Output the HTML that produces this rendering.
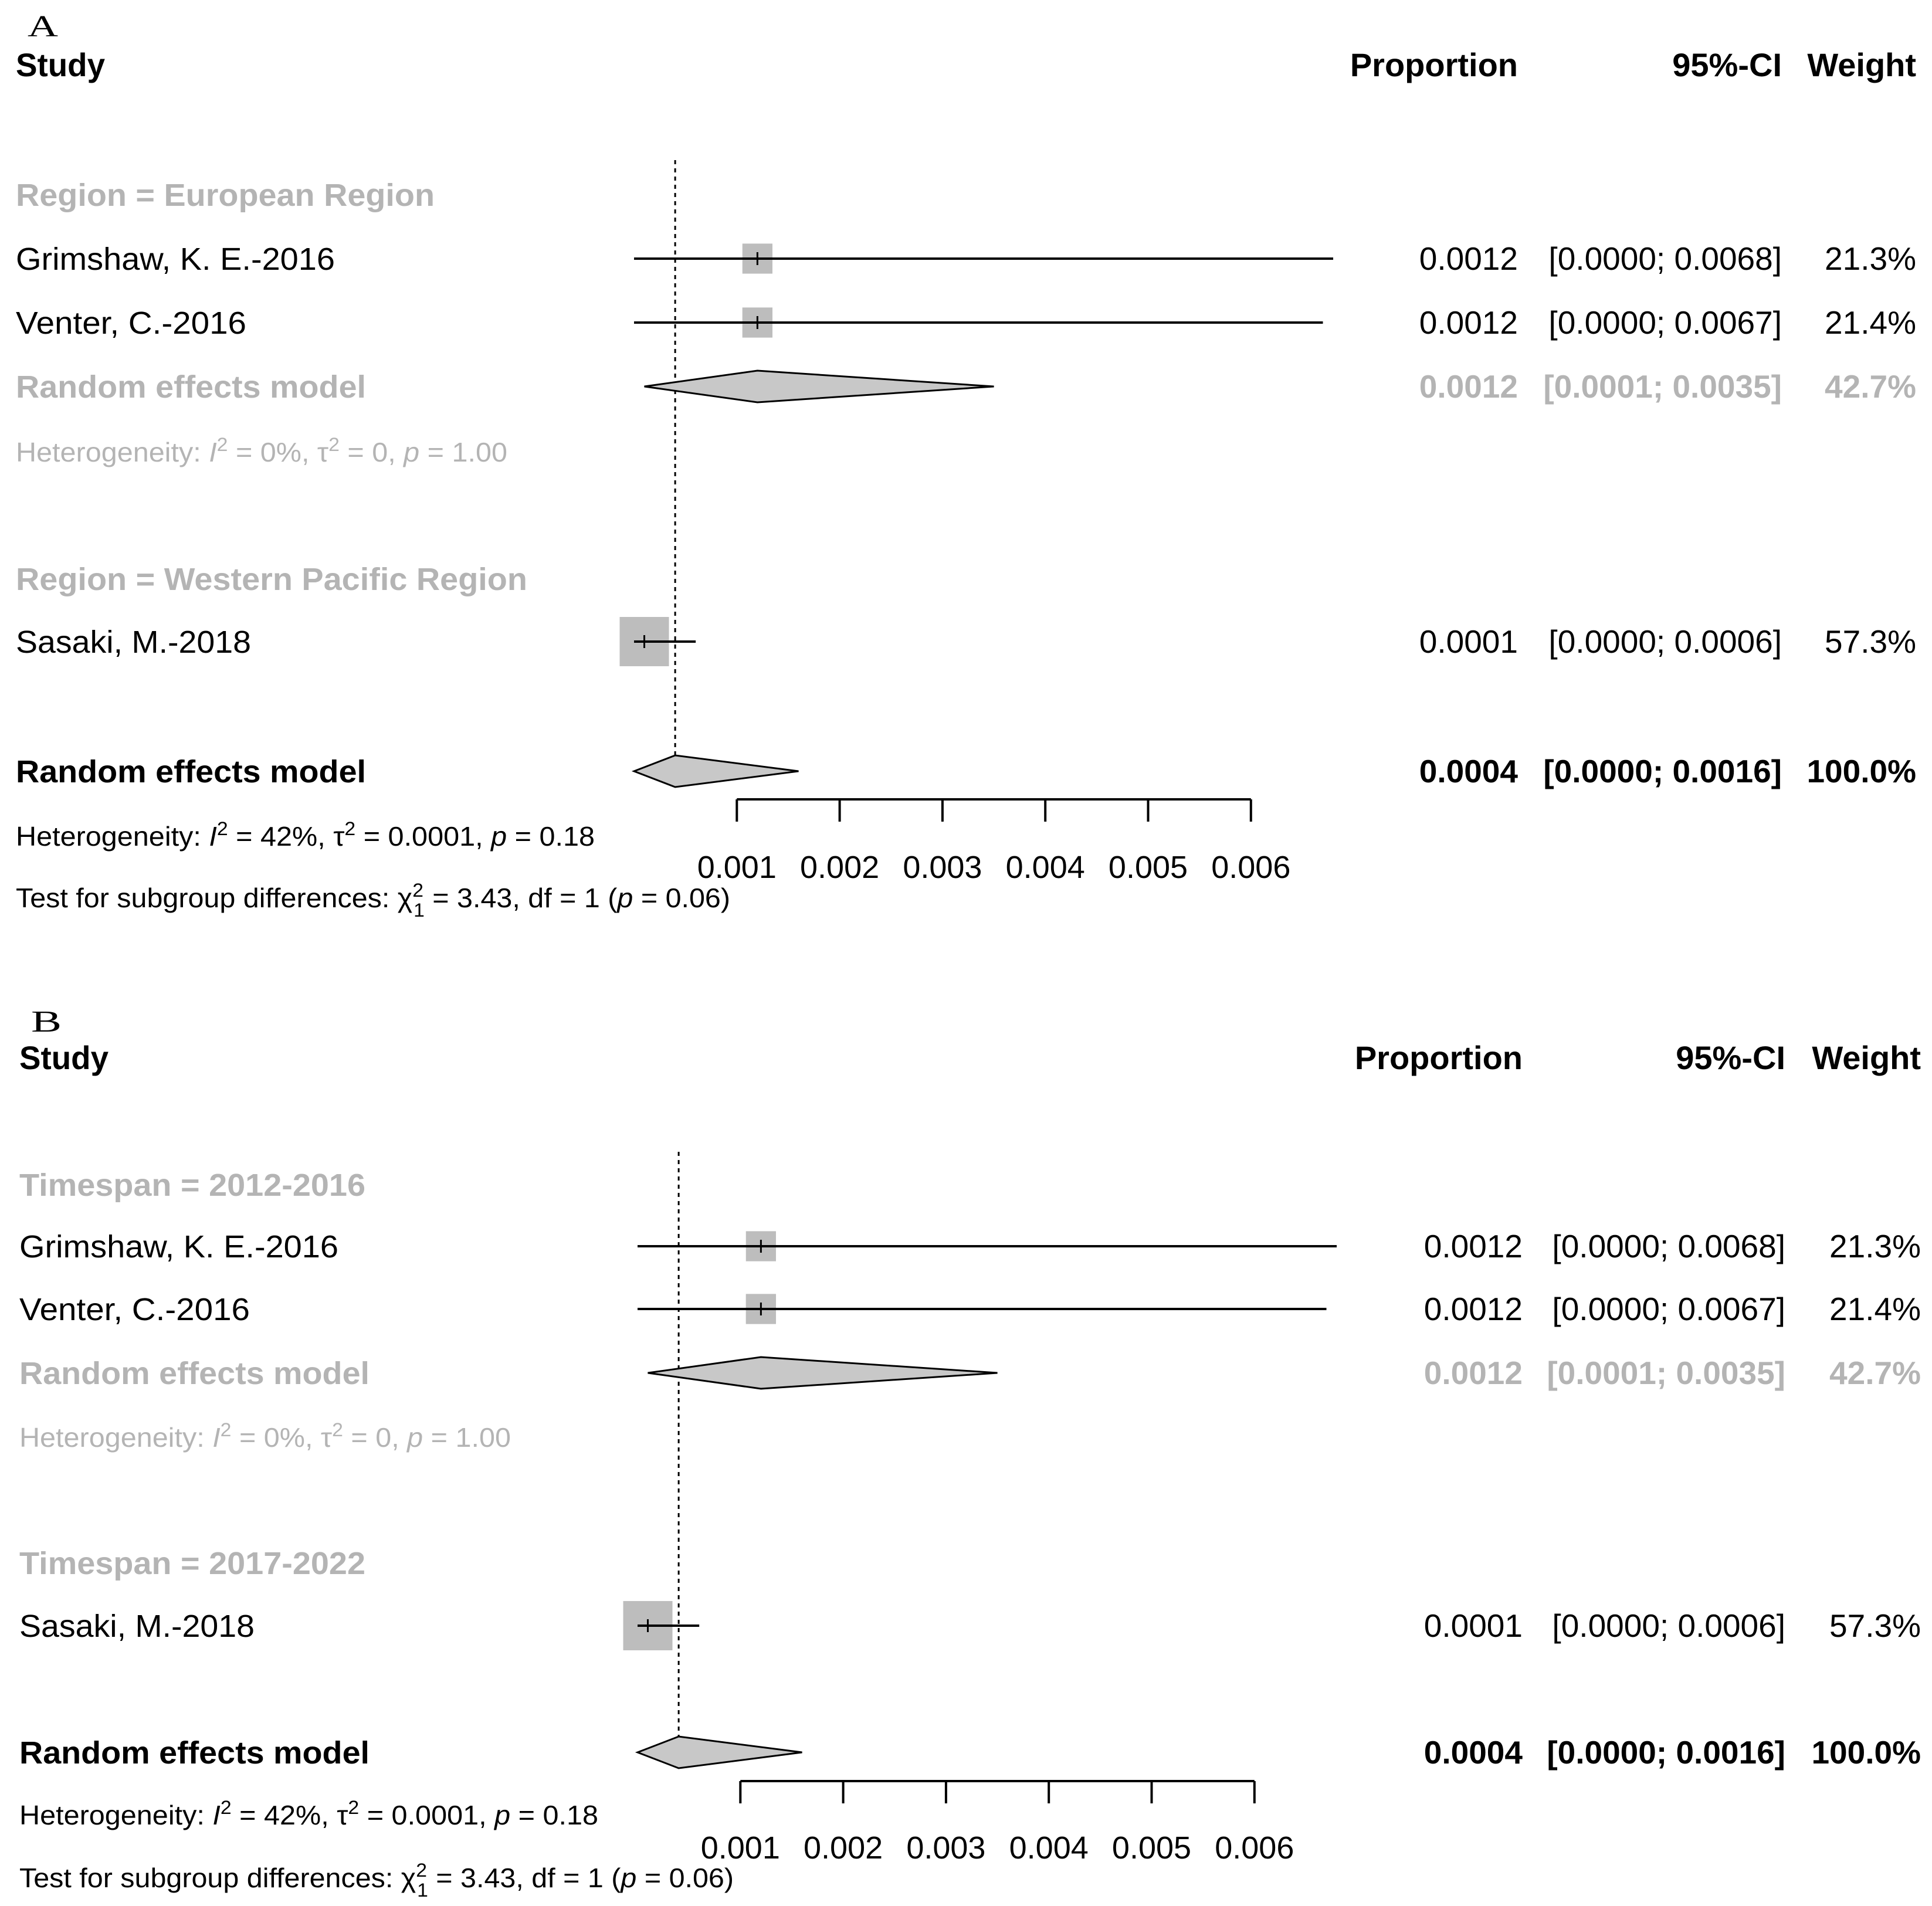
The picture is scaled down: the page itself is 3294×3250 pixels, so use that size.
<!DOCTYPE html>
<html><head><meta charset="utf-8">
<style>
html,body{margin:0;padding:0;background:#fff;}
svg{display:block;}
</style></head>
<body>
<svg id="chart" xmlns="http://www.w3.org/2000/svg" width="3294" height="3250" viewBox="0 0 3294 3250"></svg>
<script>
// ---- data ----
const studyNames = ["Grimshaw, K. E.-2016", "Venter, C.-2016", "Sasaki, M.-2018"];
const studyEst = [0.0012, 0.0012, 0.0001];
const studyLo = [0.0000, 0.0000, 0.0000];
const studyHi = [0.0068, 0.0067, 0.0006];
const studyWeight = [21.3, 21.4, 57.3];
const studyEstLabels = ["0.0012", "0.0012", "0.0001"];
const studyCILabels = ["[0.0000; 0.0068]", "[0.0000; 0.0067]", "[0.0000; 0.0006]"];
const studyWLabels = ["21.3%", "21.4%", "57.3%"];
const subEst = [0.0012];
const subLo = [0.0001];
const subHi = [0.0035];
const totalEst = [0.0004];
const totalLo = [0.0000];
const totalHi = [0.0016];
const tickValues = [0.001, 0.002, 0.003, 0.004, 0.005, 0.006];
const tickLabels = ["0.001", "0.002", "0.003", "0.004", "0.005", "0.006"];
const panelLetters = ["A", "B"];
const groupTitlesA = ["Region = European Region", "Region = Western Pacific Region"];
const groupTitlesB = ["Timespan = 2012-2016", "Timespan = 2017-2022"];

const NS = "http://www.w3.org/2000/svg";
const svg = document.getElementById('chart');
const GRAY = "#b4b4b4";
const NARROW = '"Liberation Sans Narrow","Liberation Sans",sans-serif';
const WIDE = '"Liberation Sans",sans-serif';

function el(tag, attrs, parent) {
  const e = document.createElementNS(NS, tag);
  for (const k in attrs) e.setAttribute(k, attrs[k]);
  (parent || svg).appendChild(e);
  return e;
}

function leftText(g, x, y, content, len, size, weight, color, name) {
  const t = el('text', {x: x, y: y, 'font-family': NARROW, 'font-size': size, 'font-weight': weight, fill: color, textLength: len, lengthAdjust: 'spacingAndGlyphs'}, g);
  t.innerHTML = content;
  
  
  return t;
}
function rightText(g, x, y, content, size, weight, color, name) {
  const t = el('text', {x: x, y: y, 'font-family': WIDE, 'font-size': size, 'font-weight': weight, fill: color, 'text-anchor': 'end'}, g);
  t.textContent = content;
  
  
  return t;
}

function drawPanel(p) {
  const g = el('g', {});
  
  
  const x0 = p.x0, unit = 175.3;
  const xs = v => x0 + v * 1000 * unit;
  const R = p.rows;
  const lx = p.lx;
  const B = 19;

  const L = el('text', {x: lx + 20, y: R.letter + 16, 'font-family': '"Liberation Serif",serif', 'font-size': 52, fill: '#000', textLength: 52, lengthAdjust: 'spacingAndGlyphs'}, g);
  L.textContent = p.letter;
  
  

  leftText(g, lx, R.header + B, 'Study', 152, 56, 'bold', '#000', 'study-header');
  rightText(g, p.cProp, R.header + B, 'Proportion', 56, 'bold', '#000', 'proportion-header');
  rightText(g, p.cCI, R.header + B, '95%-CI', 56, 'bold', '#000', 'ci-header');
  rightText(g, p.cW, R.header + B, 'Weight', 56, 'bold', '#000', 'weight-header');

  const dl = el('line', {x1: xs(totalEst[0]), x2: xs(totalEst[0]), y1: R.dashTop, y2: R.dashBot, stroke: '#000', 'stroke-width': 3, 'stroke-dasharray': '7,7'}, g);
  
  

  leftText(g, lx, R.g1 + B, p.groups[0], p.gLens[0], 54, 'bold', GRAY, 'subgroup-title-1');
  leftText(g, lx, R.g2 + B, p.groups[1], p.gLens[1], 54, 'bold', GRAY, 'subgroup-title-2');

  const studyY = [R.s1, R.s2, R.s3];
  const nameLens = [544, 393, 401];
  for (let i = 0; i < studyNames.length; i++) {
    const y = studyY[i];
    leftText(g, lx, y + B, studyNames[i], nameLens[i], 54, 'normal', '#000', 'study-label-' + (i + 1));
    const sz = 11.1 * Math.sqrt(studyWeight[i]);
    const sq = el('rect', {x: xs(studyEst[i]) - sz / 2, y: y - sz / 2, width: sz, height: sz, fill: '#bdbdbd'}, g);
    
    
    const ci = el('line', {x1: xs(studyLo[i]), x2: xs(studyHi[i]), y1: y, y2: y, stroke: '#000', 'stroke-width': 4}, g);
    
    
    const tk = el('line', {x1: xs(studyEst[i]), x2: xs(studyEst[i]), y1: y - 11, y2: y + 11, stroke: '#000', 'stroke-width': 3}, g);
    
    
    rightText(g, p.cProp, y + B, studyEstLabels[i], 55, 'normal', '#000', 'study-proportion-' + (i + 1));
    rightText(g, p.cCI, y + B, studyCILabels[i], 55, 'normal', '#000', 'study-ci-text-' + (i + 1));
    rightText(g, p.cW, y + B, studyWLabels[i], 55, 'normal', '#000', 'study-weight-' + (i + 1));
  }

  leftText(g, lx, R.sub + B, 'Random effects model', 597, 54, 'bold', GRAY, 'subgroup-model-label');
  const h = 27;
  const d1 = el('polygon', {points: `${xs(subLo[0])},${R.sub} ${xs(subEst[0])},${R.sub - h} ${xs(subHi[0])},${R.sub} ${xs(subEst[0])},${R.sub + h}`, fill: '#c8c8c8', stroke: '#000', 'stroke-width': 3}, g);
  
  
  rightText(g, p.cProp, R.sub + B, '0.0012', 55, 'bold', GRAY, 'subgroup-proportion');
  rightText(g, p.cCI, R.sub + B, '[0.0001; 0.0035]', 55, 'bold', GRAY, 'subgroup-ci-text');
  rightText(g, p.cW, R.sub + B, '42.7%', 55, 'bold', GRAY, 'subgroup-weight');
  leftText(g, lx, R.het1 + 16, 'Heterogeneity: <tspan font-style="italic">I</tspan><tspan dy="-18" font-size="32">2</tspan><tspan dy="18"> = 0%, τ</tspan><tspan dy="-18" font-size="32">2</tspan><tspan dy="18"> = 0, </tspan><tspan font-style="italic">p</tspan> = 1.00', 838, 46, 'normal', GRAY, 'subgroup-heterogeneity');

  leftText(g, lx, R.tot + B, 'Random effects model', 597, 54, 'bold', '#000', 'overall-model-label');
  const d2 = el('polygon', {points: `${xs(totalLo[0])},${R.tot} ${xs(totalEst[0])},${R.tot - h} ${xs(totalHi[0])},${R.tot} ${xs(totalEst[0])},${R.tot + h}`, fill: '#c8c8c8', stroke: '#000', 'stroke-width': 3}, g);
  
  
  rightText(g, p.cProp, R.tot + B, '0.0004', 55, 'bold', '#000', 'overall-proportion');
  rightText(g, p.cCI, R.tot + B, '[0.0000; 0.0016]', 55, 'bold', '#000', 'overall-ci-text');
  rightText(g, p.cW, R.tot + B, '100.0%', 55, 'bold', '#000', 'overall-weight');
  leftText(g, lx, R.het2 + 16, 'Heterogeneity: <tspan font-style="italic">I</tspan><tspan dy="-18" font-size="32">2</tspan><tspan dy="18"> = 42%, τ</tspan><tspan dy="-18" font-size="32">2</tspan><tspan dy="18"> = 0.0001, </tspan><tspan font-style="italic">p</tspan> = 0.18', 987, 46, 'normal', '#000', 'overall-heterogeneity');
  leftText(g, lx, R.test + 16, 'Test for subgroup differences: χ<tspan dy="-18" font-size="32">2</tspan><tspan dx="-16" dy="34" font-size="32">1</tspan><tspan dy="-16"> = 3.43, df = 1 (</tspan><tspan font-style="italic">p</tspan> = 0.06)', 1218, 46, 'normal', '#000', 'subgroup-test');

  const ax = el('line', {x1: xs(tickValues[0]), x2: xs(tickValues[tickValues.length - 1]), y1: R.axis, y2: R.axis, stroke: '#000', 'stroke-width': 4}, g);
  
  
  for (let i = 0; i < tickValues.length; i++) {
    const tx = xs(tickValues[i]);
    const t = el('line', {x1: tx, x2: tx, y1: R.axis, y2: R.axis + 38, stroke: '#000', 'stroke-width': 4}, g);
    
    
    const lb = el('text', {x: tx, y: R.tickLab + 19, 'font-family': WIDE, 'font-size': 54, 'text-anchor': 'middle', fill: '#000'}, g);
    lb.textContent = tickLabels[i];
    
    
  }
}

drawPanel({letter: panelLetters[0], x0: 1081, lx: 27, cProp: 2588, cCI: 3038, cW: 3267,
  groups: groupTitlesA, gLens: [714, 872],
  rows: {letter: 46, header: 111, dashTop: 273, dashBot: 1322, g1: 332, s1: 441, s2: 550, sub: 659, het1: 771, g2: 987, s3: 1094, tot: 1315, het2: 1426, test: 1531, axis: 1363, tickLab: 1478}});
drawPanel({letter: panelLetters[1], x0: 1087, lx: 33, cProp: 2596, cCI: 3044, cW: 3275,
  groups: groupTitlesB, gLens: [590, 590],
  rows: {letter: 1743, header: 1804, dashTop: 1964, dashBot: 2995, g1: 2020, s1: 2125, s2: 2232, sub: 2341, het1: 2451, g2: 2665, s3: 2772, tot: 2988, het2: 3095, test: 3202, axis: 3037, tickLab: 3150}});
</script>
</body></html>
